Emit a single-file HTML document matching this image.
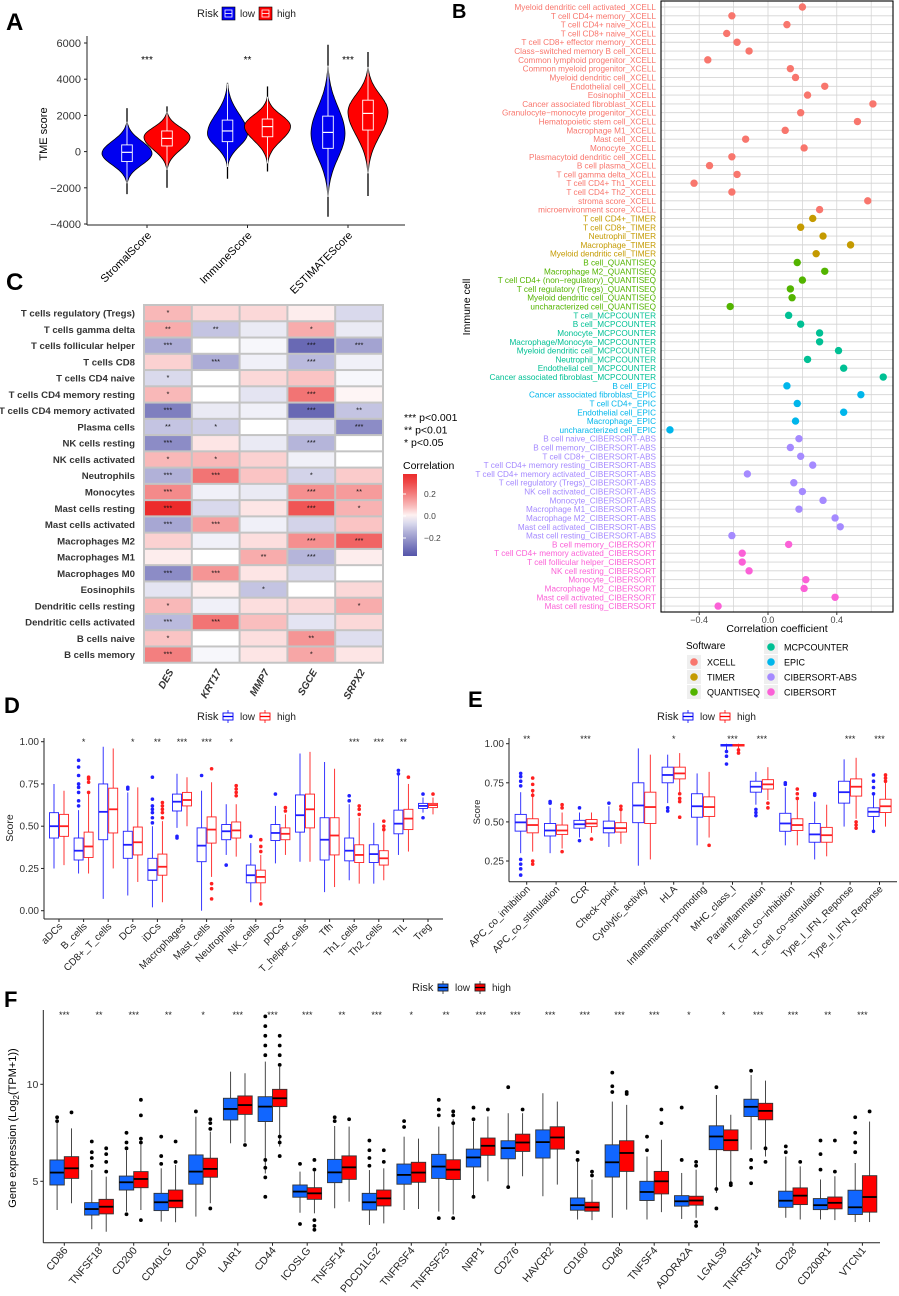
<!DOCTYPE html>
<html><head><meta charset="utf-8">
<style>
html,body{margin:0;padding:0;background:#fff;}
svg{display:block;font-family:"Liberation Sans",Arial,sans-serif;}
</style></head>
<body>
<svg id="fig" width="899" height="1296" viewBox="0 0 899 1296" xmlns="http://www.w3.org/2000/svg">
<text x="6" y="30" font-size="24" font-weight="bold">A</text>
<text x="452" y="18" font-size="20" font-weight="bold">B</text>
<text x="6" y="290" font-size="24" font-weight="bold">C</text>
<text x="4" y="713" font-size="22" font-weight="bold">D</text>
<text x="468" y="707" font-size="22" font-weight="bold">E</text>
<text x="4" y="1007" font-size="22" font-weight="bold">F</text>
</svg>
<script>
const NS='http://www.w3.org/2000/svg';
const svg=document.getElementById('fig');
function mk(parent,tag,attrs,name,text){
  const el=document.createElementNS(NS,tag);
  for(const k in attrs) el.setAttribute(k,attrs[k]);
  
  
  if(text!=null) el.textContent=text;
  parent.appendChild(el);
  return el;
}

/* ================= PANEL A data ================= */
const aCats=['StromalScore','ImmuneScore','ESTIMATEScore'];
const aSig=['***','**','***'];
const aLowBox=[[-550,-40,370],[550,1140,1740],[180,1060,1960]];
const aHighBox=[[310,730,1140],[820,1380,1800],[1190,2110,2840]];
const aLowWhisk=[[-2350,2400],[-1500,3800],[-3600,5900]];
const aHighWhisk=[[-2000,2500],[-1100,3600],[-2450,5500]];
const aLowViolin=[[-1750,1650,-100],[-850,3760,1000],[-2500,4750,1000]];
const aHighViolin=[[-1000,2200,800],[-650,3030,1400],[-1200,4680,2200]];
const aLowDens=[1.0,0.8,0.68];
const aHighDens=[0.92,0.92,0.8];
const aTicks=[6000,4000,2000,0,-2000,-4000];

/* ================= PANEL B data ================= */
const bGroups=['XCELL','TIMER','QUANTISEQ','MCPCOUNTER','EPIC','CIBERSORT-ABS','CIBERSORT'];
const bCells=[
['Myeloid dendritic cell activated','T cell CD4+ memory','T cell CD4+ naive','T cell CD8+ naive','T cell CD8+ effector memory','Class−switched memory B cell','Common lymphoid progenitor','Common myeloid progenitor','Myeloid dendritic cell','Endothelial cell','Eosinophil','Cancer associated fibroblast','Granulocyte−monocyte progenitor','Hematopoietic stem cell','Macrophage M1','Mast cell','Monocyte','Plasmacytoid dendritic cell','B cell plasma','T cell gamma delta','T cell CD4+ Th1','T cell CD4+ Th2','stroma score','microenvironment score'],
['T cell CD4+','T cell CD8+','Neutrophil','Macrophage','Myeloid dendritic cell'],
['B cell','Macrophage M2','T cell CD4+ (non−regulatory)','T cell regulatory (Tregs)','Myeloid dendritic cell','uncharacterized cell'],
['T cell','B cell','Monocyte','Macrophage/Monocyte','Myeloid dendritic cell','Neutrophil','Endothelial cell','Cancer associated fibroblast'],
['B cell','Cancer associated fibroblast','T cell CD4+','Endothelial cell','Macrophage','uncharacterized cell'],
['B cell naive','B cell memory','T cell CD8+','T cell CD4+ memory resting','T cell CD4+ memory activated','T cell regulatory (Tregs)','NK cell activated','Monocyte','Macrophage M1','Macrophage M2','Mast cell activated','Mast cell resting'],
['B cell memory','T cell CD4+ memory activated','T cell follicular helper','NK cell resting','Monocyte','Macrophage M2','Mast cell activated','Mast cell resting']];
const bValues=[
[0.20,-0.21,0.11,-0.24,-0.18,-0.11,-0.35,0.13,0.16,0.33,0.23,0.61,0.19,0.52,0.10,-0.13,0.21,-0.21,-0.34,-0.18,-0.43,-0.21,0.58,0.30],
[0.26,0.19,0.32,0.48,0.28],
[0.17,0.33,0.20,0.13,0.14,-0.22],
[0.12,0.19,0.30,0.30,0.41,0.23,0.44,0.67],
[0.11,0.54,0.17,0.44,0.16,-0.57],
[0.18,0.13,0.19,0.26,-0.12,0.15,0.20,0.32,0.18,0.39,0.42,-0.21],
[0.12,-0.15,-0.15,-0.11,0.22,0.21,0.39,-0.29]];
const bColors=['#F8766D','#C49A00','#53B400','#00C094','#00B6EB','#A58AFF','#FB61D7'];
const bTicks=[-0.4,0.0,0.4];

/* ================= PANEL C data ================= */
const cRows=['T cells regulatory (Tregs)','T cells gamma delta','T cells follicular helper','T cells CD8','T cells CD4 naive','T cells CD4 memory resting','T cells CD4 memory activated','Plasma cells','NK cells resting','NK cells activated','Neutrophils','Monocytes','Mast cells resting','Mast cells activated','Macrophages M2','Macrophages M1','Macrophages M0','Eosinophils','Dendritic cells resting','Dendritic cells activated','B cells naive','B cells memory'];
const cCols=['DES','KRT17','MMP7','SGCE','SRPX2'];
const cVals=[
[0.10,0.05,0.05,0.02,-0.06],[0.12,-0.10,-0.03,0.12,-0.03],[-0.15,0,-0.01,-0.30,-0.17],[0.06,-0.15,-0.02,-0.12,-0.02],
[-0.06,0,0.05,0.08,-0.01],[0.10,0,-0.04,0.22,0.01],[-0.25,-0.03,-0.02,-0.30,-0.10],[-0.10,-0.08,0,-0.04,-0.22],
[-0.22,0.03,-0.03,-0.13,0],[0.10,0.10,0.06,-0.02,0],[-0.14,0.22,0.08,-0.07,0.07],[0.18,-0.02,-0.03,0.17,0.15],
[0.37,-0.06,0.03,0.28,0.11],[-0.16,0.14,-0.02,-0.07,0.08],[0.06,-0.02,0.04,0.17,0.25],[0.02,0,0.12,-0.13,0.02],
[-0.22,0.16,0.03,-0.06,0],[-0.04,0.02,-0.10,0,0.05],[0.10,-0.02,0.04,0.05,0.12],[-0.12,0.22,0.09,-0.04,0.05],
[0.08,0,0.04,0.16,-0.05],[0.20,-0.01,0.03,0.13,0.03]];
const cSig=[
['*','','','',''],['**','**','','*',''],['***','','','***','***'],['','***','','***',''],
['*','','','',''],['*','','','***',''],['***','','','***','**'],['**','*','','','***'],
['***','','','***',''],['*','*','','',''],['***','***','','*',''],['***','','','***','**'],
['***','','','***','*'],['***','***','','',''],['','','','***','***'],['','','**','***',''],
['***','***','','',''],['','','*','',''],['*','','','','*'],['***','***','','',''],
['*','','','**',''],['***','','','*','']];
const cLegendTicks=[0.2,0.0,-0.2];

/* ================= PANEL D data ================= */
const dCats=['aDCs','B_cells','CD8+_T_cells','DCs','iDCs','Macrophages','Mast_cells','Neutrophils','NK_cells','pDCs','T_helper_cells','Tfh','Th1_cells','Th2_cells','TIL','Treg'];
const dLow=[[.25,.43,.50,.58,.75],[.22,.30,.355,.43,.595],[.07,.42,.585,.75,.97],[.09,.31,.39,.47,.70],[.02,.18,.24,.31,.50],[.49,.59,.645,.69,.81],[0,.29,.385,.49,.71],[.33,.42,.47,.51,.63],[.05,.165,.21,.27,.40],[.28,.415,.46,.51,.62],[.29,.465,.565,.685,.93],[.11,.30,.42,.55,.88],[.18,.295,.355,.43,.63],[.16,.285,.335,.39,.52],[.33,.455,.515,.595,.80],[.58,.605,.62,.635,.67]];
const dHigh=[[.27,.44,.50,.57,.71],[.22,.315,.38,.465,.69],[.25,.46,.60,.725,.96],[.17,.33,.405,.495,.73],[.05,.21,.26,.335,.53],[.50,.62,.655,.70,.79],[.20,.40,.48,.555,.76],[.32,.43,.475,.525,.63],[.06,.165,.20,.24,.33],[.33,.42,.455,.49,.57],[.29,.49,.60,.69,.94],[.14,.33,.445,.55,.84],[.16,.285,.33,.39,.55],[.18,.27,.31,.355,.47],[.35,.48,.545,.60,.75],[.57,.61,.625,.635,.67]];
const dOutLow=[[],[.62,.65,.7,.73,.75,.8,.85,.89],[],[.72,.73],[.52,.55,.58,.6,.62,.66,.79],[.43,.44],[.80],[.27],[.44],[.69],[],[],[.65,.68],[],[.81,.83],[.55,.69]];
const dOutHigh=[[],[.70,.76,.78,.79],[],[],[.55,.58,.6,.62,.64],[],[.16,.13,.07,.84],[.68,.7,.72,.74],[.35,.38,.42,.04],[.59,.61],[],[],[.57,.6,.62],[.48,.5,.53],[.79],[.69]];
const dSig=['','*','','*','**','***','***','*','','','','','***','***','**',''];
const dTicks=[0,0.25,0.5,0.75,1.0];

/* ================= PANEL E data ================= */
const eCats=['APC_co_inhibition','APC_co_stimulation','CCR','Check−point','Cytolytic_activity','HLA','Inflammation−promoting','MHC_class_I','Parainflammation','T_cell_co−inhibition','T_cell_co−stimulation','Type_I_IFN_Reponse','Type_II_IFN_Reponse'];
const eLow=[[.30,.441,.497,.548,.69],[.30,.41,.445,.49,.59],[.40,.46,.485,.51,.56],[.34,.43,.46,.505,.60],[.22,.495,.605,.75,.97],[.62,.75,.80,.85,.93],[.35,.53,.60,.68,.81],[.95,.985,.99,.995,1.0],[.61,.69,.725,.76,.82],[.35,.44,.49,.555,.72],[.26,.37,.42,.49,.63],[.47,.62,.69,.76,.90],[.45,.535,.565,.59,.67]];
const eHigh=[[.31,.43,.48,.52,.69],[.33,.42,.445,.48,.56],[.43,.47,.49,.515,.56],[.36,.435,.46,.495,.57],[.26,.49,.595,.69,.93],[.68,.775,.81,.85,.94],[.40,.535,.595,.66,.82],[.97,.985,.99,.995,1.0],[.64,.71,.74,.77,.85],[.35,.445,.48,.52,.64],[.28,.37,.415,.465,.61],[.52,.665,.725,.775,.91],[.47,.56,.60,.645,.80]];
const eOutLow=[[.16,.2,.23,.26,.73,.76,.79,.81],[.62,.63],[.38,.59],[.62],[],[.57,.59],[],[.87,.92,.95],[.54,.56,.58],[.74,.75],[.67,.68],[],[.44,.68,.72,.76,.80]];
const eOutHigh=[[.23,.25,.67,.7,.74,.78],[.31,.59,.61],[.39],[.58,.6],[],[.53,.63,.65,.68],[.35],[.94,.96],[.59,.62],[.65,.68,.71],[],[.46,.48,.5],[.76,.78,.80]];
const eSig=['**','','***','','','*','','***','***','','','***','***'];
const eTicks=[0.25,0.5,0.75,1.0];

/* ================= PANEL F data ================= */
const fCats=['CD86','TNFSF18','CD200','CD40LG','CD40','LAIR1','CD44','ICOSLG','TNFSF14','PDCD1LG2','TNFRSF4','TNFRSF25','NRP1','CD276','HAVCR2','CD160','CD48','TNFSF4','ADORA2A','LGALS9','TNFRSF14','CD28','CD200R1','VTCN1'];
const fLow=[[3.52,4.81,5.45,6.1,8.08],[2.53,3.26,3.57,3.9,5.58],[3.44,4.55,4.95,5.27,6.6],[2.92,3.49,3.92,4.38,5.67],[3.18,4.85,5.5,6.36,8.33],[6.96,8.16,8.73,9.28,10.65],[5.4,8.08,8.85,9.36,11.17],[3.38,4.18,4.47,4.81,5.5],[3.61,4.93,5.46,6.13,7.85],[2.75,3.52,3.92,4.38,5.58],[3.52,4.85,5.33,5.89,7.3],[3.44,5.15,5.76,6.39,7.82],[4.14,5.74,6.23,6.66,8.08],[4.74,6.16,6.71,7.09,8.51],[4.23,6.2,7.02,7.65,9.54],[3.03,3.51,3.77,4.14,6.03],[3.12,5.22,5.98,6.88,9.11],[3.03,4.01,4.45,5.0,6.28],[3.06,3.72,3.97,4.26,5.43],[4.4,6.63,7.31,7.86,9.45],[6.63,8.34,8.84,9.23,10.48],[3.12,3.66,4.0,4.49,6.28],[3.03,3.54,3.77,4.11,5.09],[2.9,3.29,3.66,4.54,5.94]];
const fHigh=[[3.87,5.15,5.67,6.27,7.73],[2.4,3.32,3.69,4.07,5.24],[3.52,4.67,5.12,5.5,6.96],[2.89,3.64,4.0,4.55,5.84],[3.87,5.21,5.64,6.19,7.56],[7.0,8.45,8.93,9.4,10.57],[6.79,8.85,9.28,9.74,10.9],[3.35,4.07,4.38,4.67,5.5],[3.95,5.1,5.72,6.31,7.82],[2.83,3.73,4.12,4.55,5.67],[3.57,4.95,5.45,5.98,7.2],[3.29,5.09,5.6,6.11,8.2],[5.0,6.34,6.83,7.23,8.34],[5.26,6.54,7.0,7.43,8.51],[4.83,6.66,7.26,7.81,9.11],[3.0,3.46,3.66,3.92,5.09],[3.54,5.51,6.46,7.09,8.94],[3.41,4.35,5.0,5.51,7.14],[3.12,3.77,4.01,4.23,5.6],[4.91,6.58,7.12,7.65,8.43],[6.28,8.17,8.63,9.02,10.19],[3.03,3.8,4.26,4.66,5.77],[3.0,3.58,3.89,4.19,5.26],[2.9,3.41,4.19,5.29,8.08]];
const fOutLow=[[8.1,8.3],[5.8,6.2,6.5,7.05],[6.7,7.0,7.5,3.3],[5.9,6.3,7.3],[8.6],[],[11.5,12,12.5,13,13.5,4.2,5.2,5.7,6.1],[5.9,2.8],[8.1,8.3],[5.8,6.2,6.6,7.1],[7.8,8.1],[8.4,8.7,9.2,3.1],[4.2,8.2,8.8],[4.7,9.85],[],[6.1,6.5],[9.6,9.9,10.6],[6.6,7.3],[6.1,8.8],[3.6,4.6,9.85],[4.9,5.7,6.1,10.7],[6.5,6.8],[5.6,6.4,7.1],[6.5,7.0,7.5,8.3]];
const fOutHigh=[[8.55],[5.5,6.0,6.4,6.7],[7.0,7.2,8.4,9.2,3.0],[6.0,7.05],[7.7,8.0,8.2,3.6],[6.87],[6.3,7,7.3,11,11.5,12,12.5],[5.6,6.1,2.7,3.0,2.5],[8.2],[6.0,6.6],[],[8.0,8.4,8.6,3.1],[8.7],[8.7],[],[5.3,5.5],[9.5,9.6],[8.0,8.7],[5.8,6.0,2.7,2.9],[4.8,4.9],[6.0,6.7],[6.0],[5.5,7.1],[8.6]];
const fSig=['***','**','***','**','*','***','***','***','**','***','*','**','***','***','***','***','***','***','*','*','***','***','**','***'];
const fTicks=[5,10];

/* ================= helpers ================= */
function riskLegend(x,y,style){
  const g=mk(svg,'g',{},'risk-legend');
  mk(g,'text',{x:x,y:y+4,'font-size':11,fill:'#222'},'legend-title','Risk');
  const items=[['low','#0000F5'],['high','#FF0000']];
  let cx=x+25;
  items.forEach((it,i)=>{
    const kg=mk(g,'g',{},'legend-entry-'+it[0]);
    if(style==='violin'){
      mk(kg,'rect',{x:cx,y:y-6,width:13,height:13,fill:it[1],stroke:'#000','stroke-width':0.6},'legend-key');
      mk(kg,'rect',{x:cx+3,y:y-3,width:7,height:7,fill:'none',stroke:'#fff','stroke-width':0.8},'legend-key-box');
      mk(kg,'line',{x1:cx+3,x2:cx+10,y1:y+0.5,y2:y+0.5,stroke:'#fff','stroke-width':0.8},'legend-key-median');
    } else if(style==='outline'){
      mk(kg,'line',{x1:cx+6,x2:cx+6,y1:y-6,y2:y+7,stroke:it[1],'stroke-width':0.8},'legend-key-whisker');
      mk(kg,'rect',{x:cx+1,y:y-3,width:10,height:7,fill:'#fff',stroke:it[1],'stroke-width':0.9},'legend-key-box');
      mk(kg,'line',{x1:cx+1,x2:cx+11,y1:y+0.5,y2:y+0.5,stroke:it[1],'stroke-width':1.3},'legend-key-median');
    } else {
      const fc=i===0?'#1166FF':'#FF0000';
      mk(kg,'line',{x1:cx+6,x2:cx+6,y1:y-6,y2:y+7,stroke:'#222','stroke-width':0.8},'legend-key-whisker');
      mk(kg,'rect',{x:cx+1,y:y-3,width:10,height:7,fill:fc,stroke:'#222','stroke-width':0.9},'legend-key-box');
      mk(kg,'line',{x1:cx+1,x2:cx+11,y1:y+0.5,y2:y+0.5,stroke:'#000','stroke-width':1.3},'legend-key-median');
    }
    mk(kg,'text',{x:cx+18,y:y+4,'font-size':10,fill:'#222'},'legend-label',it[0]);
    cx+=i===0?37:0;
  });
  return g;
}

function boxplots(cfg){
  const g=mk(svg,'g',{},cfg.name);
  const Y=v=>cfg.y0+(cfg.v0-v)*cfg.k;
  const X=i=>cfg.cx0+i*cfg.step;
  mk(g,'line',{x1:cfg.ax,x2:cfg.ax,y1:cfg.top,y2:cfg.bottom,stroke:'#222','stroke-width':1},'y-axis-line');
  mk(g,'line',{x1:cfg.ax,x2:cfg.right,y1:cfg.bottom,y2:cfg.bottom,stroke:'#222','stroke-width':1},'x-axis-line');
  cfg.ticks.forEach(t=>{
    mk(g,'line',{x1:cfg.ax-3,x2:cfg.ax,y1:Y(t),y2:Y(t),stroke:'#222'},'y-tick');
    mk(g,'text',{x:cfg.ax-5,y:Y(t)+3.5,'font-size':cfg.tfs,'text-anchor':'end',fill:'#333'},'y-tick-label',cfg.tickFmt(t));
  });
  mk(g,'text',{x:cfg.ylx,y:cfg.yly,'font-size':cfg.ytfs,'text-anchor':'middle',transform:`rotate(-90 ${cfg.ylx} ${cfg.yly})`,fill:'#222'},'y-axis-title',cfg.ytitle);
  cfg.cats.forEach((c,i)=>{
    const cx=X(i);
    mk(g,'line',{x1:cx,x2:cx,y1:cfg.bottom,y2:cfg.bottom+3,stroke:'#222'},'x-tick');
    const lx=cx+4, ly=cfg.bottom+8;
    mk(g,'text',{x:lx,y:ly,'font-size':cfg.lfs,'text-anchor':'end','font-style':cfg.italic?'italic':'normal',transform:`rotate(${cfg.rot} ${lx} ${ly})`,fill:'#222'},'x-tick-label',c);
    if(cfg.sig[i]) mk(g,'text',{x:cx,y:cfg.sigY,'font-size':9,'text-anchor':'middle',fill:'#222'},'significance-mark',cfg.sig[i]);
    [[cfg.low,cfg.outLow,-1,0],[cfg.high,cfg.outHigh,1,1]].forEach(([S,O,sgn,gi])=>{
      const s=S[i]; const bx=cx+sgn*cfg.off; const hw=cfg.hw;
      const col=cfg.stroke[gi], fill=cfg.fill[gi];
      const bg=mk(g,'g',{},'box-'+c+'-'+(gi?'high':'low'));
      mk(bg,'line',{x1:bx,x2:bx,y1:Y(s[0]),y2:Y(s[4]),stroke:col,'stroke-width':0.9},'whisker');
      mk(bg,'rect',{x:bx-hw,y:Y(s[3]),width:2*hw,height:Math.max(0.5,Y(s[1])-Y(s[3])),fill:fill,stroke:col,'stroke-width':0.9},'box');
      mk(bg,'line',{x1:bx-hw,x2:bx+hw,y1:Y(s[2]),y2:Y(s[2]),stroke:cfg.medCol?cfg.medCol:col,'stroke-width':1.8},'median');
      O[i].forEach(v=>{ mk(bg,'circle',{cx:bx,cy:Y(v),r:cfg.pr,fill:cfg.ptCol?cfg.ptCol:col},'outlier-point'); });
    });
  });
}

/* ================= PANEL A draw ================= */
(function(){
  const g=mk(svg,'g',{},'panel-a-violin');
  const Y=v=>43+(6000-v)*0.0181;
  const X=i=>147+i*100.5;
  mk(g,'line',{x1:87,x2:87,y1:36,y2:225,stroke:'#222'},'y-axis-line');
  mk(g,'line',{x1:87,x2:405,y1:225,y2:225,stroke:'#222'},'x-axis-line');
  aTicks.forEach(t=>{
    mk(g,'line',{x1:84,x2:87,y1:Y(t),y2:Y(t),stroke:'#222'},'y-tick');
    mk(g,'text',{x:81,y:Y(t)+4,'font-size':11,'text-anchor':'end',fill:'#333'},'y-tick-label',String(t).replace('-','−'));
  });
  mk(g,'text',{x:47,y:134,'font-size':11,'text-anchor':'middle',transform:'rotate(-90 47 134)'},'y-axis-title','TME score');
  aCats.forEach((c,i)=>{
    const cx=X(i);
    mk(g,'line',{x1:cx,x2:cx,y1:225,y2:228,stroke:'#222'},'x-tick');
    mk(g,'text',{x:cx+5,y:236,'font-size':11,'text-anchor':'end',transform:`rotate(-45 ${cx+5} 236)`},'x-tick-label',c);
    mk(g,'text',{x:cx,y:63,'font-size':10,'text-anchor':'middle'},'significance-mark',aSig[i]);
    [[aLowViolin,aLowBox,aLowWhisk,aLowDens,-20,'#0000F0','low'],[aHighViolin,aHighBox,aHighWhisk,aHighDens,20,'#FF0000','high']].forEach(([V,B,W,D,off,col,nm])=>{
      const vx=cx+off; const [mn,mx,mode]=V[i]; const Wd=25*D[i];
      const vg=mk(g,'g',{},'violin-'+c+'-'+nm);
      mk(vg,'line',{x1:vx,x2:vx,y1:Y(W[i][0]),y2:Y(W[i][1]),stroke:'#000','stroke-width':1.3},'whisker-outer');
      const pts=[],N=60;
      for(let k=0;k<=N;k++){
        const v=mn+(mx-mn)*k/N;
        const u=v<mode?(v-mode)/(mode-mn):(v-mode)/(mx-mode);
        const w=Wd*Math.exp(-3*u*u)*Math.sqrt(Math.max(0,1-u*u));
        pts.push([w,Y(v)]);
      }
      let d='M'+pts.map(p=>(vx+p[0]).toFixed(1)+','+p[1].toFixed(1)).join('L');
      d+='L'+pts.slice().reverse().map(p=>(vx-p[0]).toFixed(1)+','+p[1].toFixed(1)).join('L')+'Z';
      mk(vg,'path',{d:d,fill:col,stroke:'#000','stroke-width':0.8},'violin-body');
      mk(vg,'line',{x1:vx,x2:vx,y1:Y(mn),y2:Y(mx),stroke:'#fff','stroke-width':0.9},'whisker-inner');
      mk(vg,'rect',{x:vx-5.3,y:Y(B[i][2]),width:10.6,height:Y(B[i][0])-Y(B[i][2]),fill:col,stroke:'#fff','stroke-width':0.9},'box');
      mk(vg,'line',{x1:vx-5.3,x2:vx+5.3,y1:Y(B[i][1]),y2:Y(B[i][1]),stroke:'#fff','stroke-width':1.2},'median');
    });
  });
  riskLegend(197,13,'violin');
})();

/* ================= PANEL B draw ================= */
(function(){
  const g=mk(svg,'g',{},'panel-b-dotplot');
  const X=v=>768+v*172;
  const y0=7, step=8.81;
  const top=1, bottom=612;
  mk(g,'rect',{x:661,y:top,width:232,height:bottom-top,fill:'#fff'},'plot-background');
  [-0.6,-0.4,-0.2,0,0.2,0.4,0.6].forEach(t=>{ if(X(t)>661&&X(t)<893) mk(g,'line',{x1:X(t),x2:X(t),y1:top,y2:bottom,stroke:'#d0d0d0','stroke-width':0.7},'grid-v'); });
  let r=0;
  bGroups.forEach((grp,gi)=>{
    bCells[gi].forEach((cell,ci)=>{
      const y=y0+r*step;
      mk(g,'line',{x1:661,x2:893,y1:y,y2:y,stroke:'#d4d4d4','stroke-width':0.9},'grid-h');
      mk(g,'text',{x:656,y:y+3,'font-size':8.2,'text-anchor':'end',fill:bColors[gi]},'row-label',cell+'_'+grp);
      r++;
    });
  });
  r=0;
  bGroups.forEach((grp,gi)=>{
    bValues[gi].forEach(v=>{
      mk(g,'circle',{cx:X(v),cy:y0+r*step,r:3.7,fill:bColors[gi]},'point-'+grp);
      r++;
    });
  });
  mk(g,'rect',{x:661,y:top,width:232,height:bottom-top,fill:'none',stroke:'#000','stroke-width':1.1},'plot-border');
  bTicks.forEach(t=>{
    mk(g,'line',{x1:X(t),x2:X(t),y1:bottom,y2:bottom+3,stroke:'#333'},'x-tick');
    mk(g,'text',{x:X(t),y:bottom+11,'font-size':9,'text-anchor':'middle',fill:'#444'},'x-tick-label',t.toFixed(1).replace('-','−'));
  });
  mk(g,'text',{x:777,y:632,'font-size':10.5,'text-anchor':'middle'},'x-axis-title','Correlation coefficient');
  mk(g,'text',{x:470,y:307,'font-size':10.5,'text-anchor':'middle',transform:'rotate(-90 470 307)'},'y-axis-title','Immune cell');
  const lg=mk(g,'g',{},'software-legend');
  mk(lg,'text',{x:686,y:649,'font-size':10},'legend-title','Software');
  bGroups.forEach((grp,gi)=>{
    const col=gi<3?0:1, row=gi<3?gi:gi-3;
    const lx=col===0?694:771, ly=(col===0?662:647)+row*15;
    const eg=mk(lg,'g',{},'legend-entry-'+grp);
    mk(eg,'rect',{x:lx-7,y:ly-7,width:14,height:14,fill:'#efefef'},'legend-key-bg');
    mk(eg,'circle',{cx:lx,cy:ly,r:3.8,fill:bColors[gi]},'legend-key');
    mk(eg,'text',{x:lx+13,y:ly+3.5,'font-size':9},'legend-label',grp);
  });
})();

/* ================= PANEL C draw ================= */
function divColor(v){
  const lo=[80,80,168], hi=[236,44,44], w=[255,255,255];
  let t=Math.max(-1,Math.min(1,v/0.36)); let c;
  if(t<0){ t=-t; c=w.map((x,k)=>Math.round(x+(lo[k]-x)*Math.pow(t,0.85))); }
  else { c=w.map((x,k)=>Math.round(x+(hi[k]-x)*Math.pow(t,0.85))); }
  return `rgb(${c[0]},${c[1]},${c[2]})`;
}
(function(){
  const g=mk(svg,'g',{},'panel-c-heatmap');
  const x0=144, cw=47.8, y0=305, rh=16.26;
  mk(g,'rect',{x:x0-1,y:y0-1,width:cw*5+2,height:rh*22+2,fill:'#c4c4c4'},'heatmap-frame');
  cRows.forEach((rn,ri)=>{
    mk(g,'text',{x:135,y:y0+ri*rh+rh/2+3.5,'font-size':9.6,'font-weight':'bold','text-anchor':'end',fill:'#333'},'row-label',rn);
    cCols.forEach((cn,ci)=>{
      mk(g,'rect',{x:x0+ci*cw+1,y:y0+ri*rh+1,width:cw-2,height:rh-2,fill:divColor(cVals[ri][ci])},'cell-'+cn);
      if(cSig[ri][ci]) mk(g,'text',{x:x0+ci*cw+cw/2,y:y0+ri*rh+rh/2+2,'font-size':7.5,'text-anchor':'middle',fill:'#111'},'cell-significance',cSig[ri][ci]);
    });
  });
  cCols.forEach((cn,ci)=>{
    const lx=x0+ci*cw+cw/2+6, ly=y0+22*rh+9;
    mk(g,'text',{x:lx,y:ly,'font-size':10,'font-weight':'bold','font-style':'italic','text-anchor':'end',transform:`rotate(-60 ${lx} ${ly})`,fill:'#333'},'column-label',cn);
  });
  const lg=mk(g,'g',{},'significance-legend');
  [['***','p<0.001'],['**','p<0.01'],['*','p<0.05']].forEach((p,i)=>{
    mk(lg,'text',{x:404,y:421+i*12.5,'font-size':10.5},'legend-entry',p[0]+'  '+p[1]);
  });
  mk(g,'text',{x:403,y:469,'font-size':10.5},'colorbar-title','Correlation');
  const defs=mk(g,'defs',{},'defs');
  const gr=mk(defs,'linearGradient',{id:'cg',x1:0,y1:0,x2:0,y2:1},'colorbar-gradient');
  for(let k=0;k<=10;k++){ const v=0.38-k*0.073; mk(gr,'stop',{offset:(k/10),'stop-color':divColor(v)},'gradient-stop'); }
  mk(g,'rect',{x:403,y:474,width:14,height:82,fill:'url(#cg)'},'colorbar');
  const CY=v=>516-v*110;
  cLegendTicks.forEach(t=>{
    mk(g,'line',{x1:403,x2:406,y1:CY(t),y2:CY(t),stroke:'#fff'},'colorbar-tick');
    mk(g,'text',{x:424,y:CY(t)+3,'font-size':8.5,fill:'#444'},'colorbar-tick-label',t.toFixed(1).replace('-','−'));
  });
})();

/* ================= PANEL D/E/F draw ================= */
boxplots({name:'panel-d-boxplot',cats:dCats,low:dLow,high:dHigh,outLow:dOutLow,outHigh:dOutHigh,sig:dSig,ticks:dTicks,
  y0:741.7,v0:1.0,k:169,cx0:59,step:24.6,off:5,hw:4.5,ax:44,top:738,bottom:919,right:443,
  tfs:10,tickFmt:t=>t.toFixed(2),ylx:13,yly:828,ytfs:10.5,ytitle:'Score',lfs:10,rot:-45,sigY:745,pr:1.8,
  stroke:['#2020FF','#FF2020'],fill:['#fff','#fff']});
riskLegend(197,716,'outline');
boxplots({name:'panel-e-boxplot',cats:eCats,low:eLow,high:eHigh,outLow:eOutLow,outHigh:eOutHigh,sig:eSig,ticks:eTicks,
  y0:743.7,v0:1.0,k:156.4,cx0:526.7,step:29.4,off:6,hw:5.6,ax:509,top:738,bottom:881.7,right:897,
  tfs:10,tickFmt:t=>t.toFixed(2),ylx:480,yly:812,ytfs:9.5,ytitle:'Score',lfs:10,rot:-45,sigY:742,pr:1.8,
  stroke:['#2020FF','#FF2020'],fill:['#fff','#fff']});
riskLegend(657,716,'outline');
boxplots({name:'panel-f-boxplot',cats:fCats,low:fLow,high:fHigh,outLow:fOutLow,outHigh:fOutHigh,sig:fSig,ticks:fTicks,
  y0:1084.3,v0:10,k:19.4,cx0:64.3,step:34.7,off:7.2,hw:7.2,ax:43.3,top:1010,bottom:1242.7,right:880,
  tfs:10.5,tickFmt:t=>String(t),ylx:16,yly:1128,ytfs:11,ytitle:'',lfs:10.5,rot:-50,sigY:1018,pr:1.9,
  stroke:['#333','#333'],fill:['#1166FF','#FF0000'],medCol:'#000',ptCol:'#000'});
riskLegend(412,987,'filled');
(function(){
  const t=mk(svg,'text',{x:16,y:1128,'font-size':11,'text-anchor':'middle',transform:'rotate(-90 16 1128)'},'f-y-axis-title',null);
  mk(t,'tspan',{},'title-part','Gene expression (Log');
  mk(t,'tspan',{'font-size':8,dy:3},'title-subscript','2');
  mk(t,'tspan',{dy:-3},'title-part','(TPM+1))');
})();
</script>
</body></html>
